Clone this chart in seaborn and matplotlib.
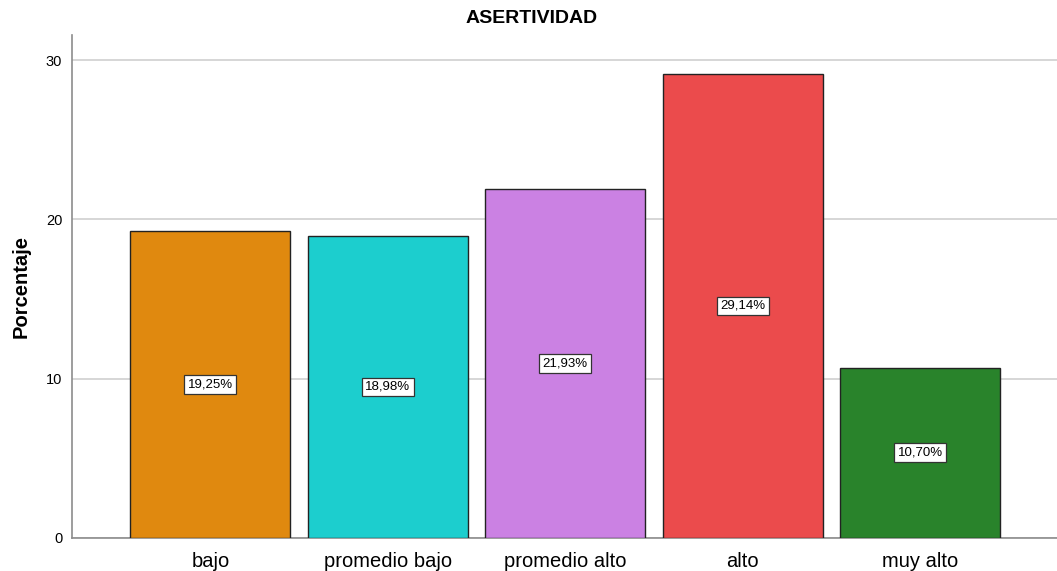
import numpy as np
import pandas as pd
import matplotlib
matplotlib.use("Agg")
import matplotlib.pyplot as plt
import seaborn as sns

categories = ["bajo", "promedio bajo", "promedio alto", "alto", "muy alto"]
percentages = [19.25, 18.98, 21.93, 29.14, 10.70]
bar_colors = ["#E0890F", "#1CCECE", "#CB81E3", "#EB4B4C", "#29832B"]
y_ticks = [0, 10, 20, 30]

sns.set_style("white")
plt.rcParams["font.family"] = ["Liberation Sans", "DejaVu Sans"]
plt.rcParams["text.color"] = "black"
plt.rcParams["axes.labelcolor"] = "black"
plt.rcParams["xtick.color"] = "black"
plt.rcParams["ytick.color"] = "black"

df = pd.DataFrame({"cat": categories, "pct": percentages})

fig = plt.figure(figsize=(10.57, 5.71), dpi=100)
ax = fig.add_axes([0.068, 0.058, 0.932, 0.881])

sns.barplot(data=df, x="cat", y="pct", hue="cat", palette=bar_colors,
            width=0.9, edgecolor="#222222", linewidth=1.0, legend=False,
            saturation=1, ax=ax, zorder=3)

# value labels in white boxes at the middle of each bar
for i, v in enumerate(percentages):
    txt = f"{v:.2f}%".replace(".", ",")
    ax.text(i, v / 2, txt, ha="center", va="center", fontsize=9.5, zorder=4,
            color="black",
            bbox=dict(boxstyle="square,pad=0.25", facecolor="white",
                      edgecolor="#333333", linewidth=0.9))

ax.set_xlim(-0.78, 4.77)
ax.set_ylim(0, 31.6)
ax.set_yticks(y_ticks)
ax.yaxis.grid(True, color="#D0D0D0", linewidth=1.2, zorder=0)
ax.set_axisbelow(True)

ax.set_xlabel(None)
ax.set_ylabel("Porcentaje", fontsize=14.5, fontweight="bold")
ax.yaxis.set_label_coords(-0.042, 0.5)
ax.tick_params(axis="y", labelsize=10.5, length=0, pad=7)
ax.tick_params(axis="x", labelsize=14.5, length=0, pad=10)

for side in ["top", "right"]:
    ax.spines[side].set_visible(False)
for side in ["left", "bottom"]:
    ax.spines[side].set_color("#8C8C8C")
    ax.spines[side].set_linewidth(1.2)

fig.suptitle("ASERTIVIDAD", x=0.503, y=0.983, fontsize=14, fontweight="bold")

fig.savefig("out.png", dpi=100)
